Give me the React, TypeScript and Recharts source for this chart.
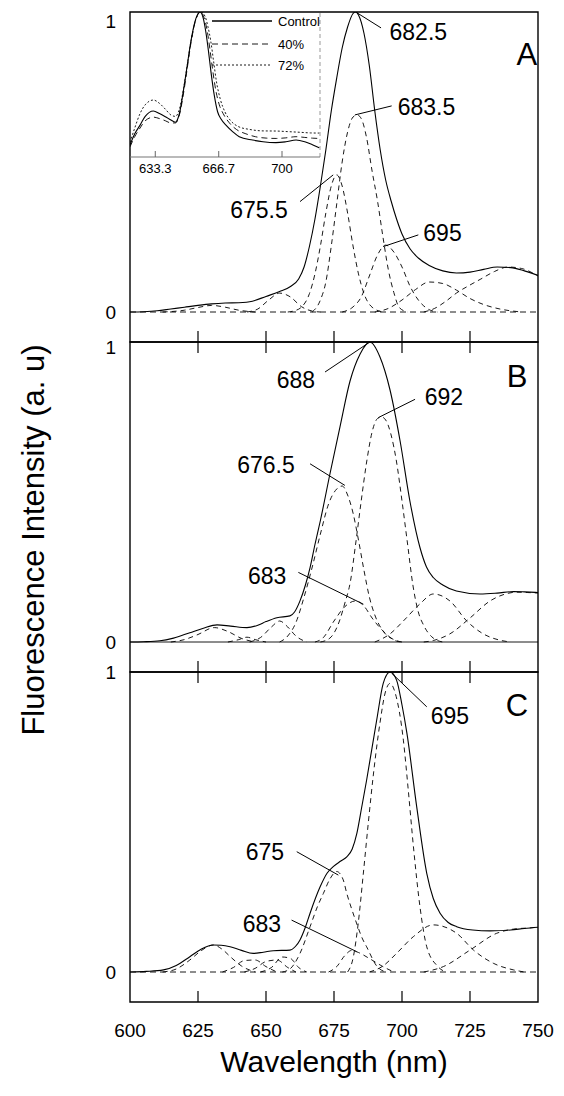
import React from 'react';
import { LineChart, Line, XAxis, YAxis, ReferenceArea, ReferenceLine, ReferenceDot, Legend } from 'recharts';

type Pt = [number, number];
type Note = { text: string; x: number; y: number; x1: number; y1: number; x2: number; y2: number };

const FONT = '"Liberation Sans", Arial, Helvetica, sans-serif';

// axes
const WAVE_TICKS = [600, 625, 650, 675, 700, 725, 750];
const INTENSITY_TICKS = [0, 1];
const INSET_TICKS = [633.3, 666.7, 700];
const INSET_NAMES = ['Control', '40%', '72%'];

// ---- panel A: measured spectrum + gaussian components
const A_TOTAL: Pt[] = [
  [600, 0], [605, 0.001], [610, 0.004], [615, 0.01], [620, 0.016], [625, 0.022], [630, 0.027], [635, 0.03],
  [640, 0.031], [645, 0.036], [650, 0.052], [655, 0.068], [659, 0.085], [662, 0.11], [664, 0.15], [666, 0.22],
  [668, 0.31], [670, 0.42], [672, 0.54], [674, 0.67], [676, 0.78], [678, 0.88], [680, 0.95], [682, 0.995],
  [683, 1.0], [684, 0.99], [686, 0.93], [688, 0.82], [690, 0.67], [692, 0.54], [694, 0.44], [696, 0.37],
  [698, 0.31], [700, 0.26], [703, 0.21], [706, 0.18], [710, 0.155], [715, 0.137], [720, 0.13], [725, 0.133],
  [730, 0.142], [735, 0.15], [740, 0.148], [745, 0.137], [750, 0.122],
];
const A_630: Pt[] = [[612, 0], [620, 0.006], [625, 0.015], [630, 0.022], [635, 0.016], [640, 0.006], [646, 0]];
const A_655: Pt[] = [[643, 0], [647, 0.01], [651, 0.04], [655, 0.063], [659, 0.05], [663, 0.018], [667, 0.003], [670, 0]];
const A_675: Pt[] = [
  [658, 0], [660, 0.003], [663, 0.016], [666, 0.062], [668, 0.127], [670, 0.22], [672, 0.33], [674, 0.42],
  [676, 0.457], [678, 0.42], [680, 0.33], [682, 0.22], [684, 0.127], [686, 0.062], [689, 0.016], [693, 0],
];
const A_683: Pt[] = [
  [667, 0], [670, 0.04], [672, 0.1], [674, 0.22], [676, 0.36], [678, 0.5], [680, 0.6], [682, 0.65], [683.5, 0.657],
  [685, 0.645], [687, 0.58], [689, 0.47], [691, 0.37], [693, 0.25], [695, 0.14], [697, 0.065], [699, 0.015], [702, 0],
];
const A_695: Pt[] = [
  [678, 0], [682, 0.017], [685, 0.05], [688, 0.12], [691, 0.19], [694, 0.223], [697, 0.2], [700, 0.15],
  [703, 0.085], [706, 0.04], [709, 0.013], [713, 0],
];
const A_710: Pt[] = [
  [690, 0], [695, 0.012], [700, 0.04], [705, 0.075], [710, 0.1], [715, 0.095], [720, 0.073], [725, 0.045],
  [730, 0.025], [736, 0.01], [744, 0],
];
const A_740: Pt[] = [
  [708, 0], [712, 0.012], [716, 0.035], [720, 0.063], [725, 0.09], [729, 0.11], [734, 0.135], [739, 0.15],
  [744, 0.145], [750, 0.12],
];
const A_NOTES: Note[] = [
  { text: '682.5', x: 706, y: 0.933, x1: 683.5, y1: 0.997, x2: 692.3, y2: 0.947 },
  { text: '683.5', x: 709, y: 0.683, x1: 682.7, y1: 0.657, x2: 696.2, y2: 0.687 },
  { text: '675.5', x: 647.4, y: 0.34, x1: 662.5, y1: 0.368, x2: 674.7, y2: 0.457 },
  { text: '695', x: 714.9, y: 0.262, x1: 693.1, y1: 0.218, x2: 706, y2: 0.257 },
];

// ---- panel B
const B_TOTAL: Pt[] = [
  [600, 0], [605, 0.001], [611, 0.004], [616, 0.013], [622, 0.031], [627, 0.046], [632, 0.057], [637, 0.053],
  [643, 0.048], [647, 0.056], [650, 0.068], [654, 0.081], [658.8, 0.087], [660.5, 0.1], [662.5, 0.137],
  [664.5, 0.19], [666.2, 0.248], [668, 0.325], [670, 0.405], [673.5, 0.56], [677.2, 0.717], [680.9, 0.87],
  [684.6, 0.96], [688.2, 1.0], [691.9, 0.95], [695.6, 0.84], [699.3, 0.67], [702.9, 0.47], [706.6, 0.315],
  [709, 0.25], [711.5, 0.215], [715, 0.19], [720, 0.17], [728.7, 0.16], [735, 0.163], [741, 0.168],
  [745, 0.167], [750, 0.165],
];
const B_631: Pt[] = [[615, 0], [620, 0.008], [625, 0.025], [631, 0.048], [636, 0.035], [641, 0.012], [646, 0]];
const B_643: Pt[] = [[636, 0], [640, 0.008], [643, 0.016], [646, 0.008], [650, 0]];
const B_655: Pt[] = [[644, 0], [648, 0.015], [652, 0.05], [655, 0.07], [658, 0.05], [661, 0.02], [665, 0]];
const B_676: Pt[] = [
  [655, 0], [658, 0.02], [661, 0.065], [664, 0.15], [667, 0.25], [670, 0.36], [673, 0.46], [676, 0.51],
  [678, 0.52], [680, 0.49], [682, 0.43], [684, 0.34], [686, 0.24], [688, 0.15], [690, 0.09], [693, 0.037],
  [697, 0.008], [700, 0],
];
const B_683: Pt[] = [
  [668, 0], [671, 0.014], [675, 0.07], [679, 0.118], [683, 0.137], [686, 0.12], [689, 0.08], [693, 0.037],
  [698, 0.003], [700, 0],
];
const B_692: Pt[] = [
  [670, 0], [673.5, 0.013], [677, 0.07], [679, 0.13], [681, 0.2], [683, 0.33], [685, 0.47], [687, 0.6],
  [689, 0.7], [691, 0.745], [692.5, 0.75], [694, 0.74], [696, 0.69], [698, 0.6], [700, 0.47], [702, 0.33],
  [704, 0.19], [706, 0.1], [708, 0.055], [711.5, 0.013], [715, 0],
];
const B_712: Pt[] = [
  [690, 0], [695.6, 0.027], [700.5, 0.07], [706.6, 0.127], [711.5, 0.16], [717.6, 0.137], [723.8, 0.07],
  [729.9, 0.027], [736, 0.006], [740, 0],
];
const B_742: Pt[] = [
  [708, 0], [711.5, 0.005], [717.6, 0.027], [725, 0.08], [732.4, 0.137], [738, 0.16], [742, 0.166],
  [746, 0.165], [750, 0.163],
];
const B_NOTES: Note[] = [
  { text: '688', x: 661, y: 0.873, x1: 671.7, y1: 0.9, x2: 688.2, y2: 1.0 },
  { text: '692', x: 715.4, y: 0.818, x1: 691.3, y1: 0.748, x2: 704.8, y2: 0.809 },
  { text: '676.5', x: 650, y: 0.589, x1: 666.2, y1: 0.594, x2: 679, y2: 0.522 },
  { text: '683', x: 650.4, y: 0.221, x1: 661.9, y1: 0.232, x2: 685.8, y2: 0.126 },
];

// ---- panel C
const C_TOTAL: Pt[] = [
  [600, 0], [606, 0.002], [612.3, 0.007], [617, 0.022], [622, 0.051], [626, 0.075], [630.6, 0.09],
  [633.5, 0.089], [636.8, 0.084], [641, 0.072], [645.3, 0.062], [649, 0.066], [652.7, 0.071], [658.8, 0.073],
  [660.8, 0.085], [662.5, 0.107], [664.5, 0.15], [666.2, 0.196], [669.9, 0.284], [672.5, 0.33], [674.7, 0.351],
  [677.5, 0.37], [679.7, 0.384], [681.7, 0.41], [683.4, 0.462], [685.2, 0.55], [687, 0.64], [690.7, 0.84],
  [693.1, 0.962], [695.6, 1.0], [698, 0.973], [700, 0.89], [701.8, 0.796], [705.4, 0.551], [709.1, 0.329],
  [711.5, 0.245], [714, 0.196], [717, 0.165], [720.1, 0.151], [726, 0.14], [732.4, 0.137], [740, 0.14],
  [745, 0.145], [750, 0.149],
];
const C_631: Pt[] = [[612, 0], [617, 0.01], [622, 0.04], [626, 0.07], [630.6, 0.09], [634, 0.075], [637, 0.05], [641, 0.02], [646, 0]];
const C_642: Pt[] = [[634, 0], [638, 0.015], [642, 0.038], [646, 0.04], [650, 0.018], [654, 0]];
const C_650: Pt[] = [[642, 0], [646, 0.012], [650, 0.035], [654, 0.04], [658, 0.015], [661, 0]];
const C_657: Pt[] = [[648, 0], [652, 0.015], [656, 0.05], [659, 0.045], [662, 0.015], [665, 0]];
const C_675: Pt[] = [
  [656, 0], [658.8, 0.01], [662.5, 0.062], [666.2, 0.151], [669, 0.22], [671.1, 0.262], [673.5, 0.31],
  [676, 0.335], [678.4, 0.307], [679.7, 0.262], [681.5, 0.21], [683.4, 0.16], [685.5, 0.11], [687, 0.084],
  [690.7, 0.02], [694, 0],
];
const C_683: Pt[] = [[673, 0], [676, 0.018], [679, 0.055], [681.5, 0.072], [684, 0.065], [688, 0.045], [693, 0.018], [697, 0]];
const C_695: Pt[] = [
  [680, 0], [682.1, 0.05], [683.9, 0.162], [685.8, 0.33], [687.6, 0.496], [689.5, 0.66], [691.9, 0.83],
  [693.8, 0.93], [695.6, 0.962], [697.5, 0.93], [700.5, 0.773], [702.3, 0.607], [704.2, 0.418], [706.6, 0.218],
  [709.1, 0.084], [713, 0.02], [716, 0],
];
const C_712: Pt[] = [
  [688, 0], [693, 0.02], [698, 0.062], [704.2, 0.118], [711.5, 0.157], [720.1, 0.129], [726.3, 0.073],
  [733.6, 0.029], [741, 0.007], [745, 0],
];
const C_745: Pt[] = [[708, 0], [715.2, 0.018], [725, 0.073], [734.8, 0.129], [741, 0.143], [747, 0.147], [750, 0.149]];
const C_NOTES: Note[] = [
  { text: '695', x: 717.6, y: 0.853, x1: 696.2, y1: 0.996, x2: 709.1, y2: 0.884 },
  { text: '675', x: 649.6, y: 0.4, x1: 661.3, y1: 0.401, x2: 676.6, y2: 0.323 },
  { text: '683', x: 648.5, y: 0.16, x1: 659.4, y1: 0.173, x2: 683.3, y2: 0.068 },
];

// ---- inset: whole spectra at three treatments
const INSET_CONTROL: Pt[] = [
  [620, 0.083], [622.5, 0.16], [625.3, 0.22], [628, 0.28], [632.3, 0.317], [635.5, 0.3], [638.6, 0.278],
  [641.5, 0.255], [643.9, 0.24], [646, 0.3], [648.3, 0.473], [650, 0.62], [652, 0.795], [654.7, 0.956],
  [656.8, 1.0], [658.5, 0.96], [659.9, 0.864], [661.3, 0.73], [662.6, 0.589], [664.3, 0.43], [666.1, 0.312],
  [668, 0.26], [670.5, 0.22], [674, 0.175], [677.5, 0.14], [684.5, 0.117], [690, 0.105], [696.8, 0.099],
  [702, 0.105], [707.4, 0.117], [712, 0.105], [716, 0.085], [719.6, 0.064],
];
const INSET_40: Pt[] = [
  [620, 0.07], [622.5, 0.14], [625.3, 0.2], [628, 0.25], [632.3, 0.275], [635.5, 0.265], [638.6, 0.25],
  [641.5, 0.235], [643.9, 0.235], [646, 0.29], [648.3, 0.45], [650, 0.6], [652, 0.78], [654.7, 0.95],
  [657, 1.0], [659, 0.96], [660.5, 0.88], [662, 0.75], [663.5, 0.6], [665.3, 0.45], [667, 0.36], [669, 0.3],
  [672, 0.24], [676, 0.19], [681, 0.16], [686, 0.14], [692, 0.13], [697, 0.128], [702, 0.132], [707.4, 0.14],
  [712, 0.135], [716, 0.13], [719.6, 0.128],
];
const INSET_72: Pt[] = [
  [620, 0.1], [622.5, 0.2], [625.3, 0.3], [628, 0.36], [632.3, 0.393], [635.5, 0.37], [638.6, 0.33],
  [641.5, 0.29], [643.9, 0.28], [646, 0.33], [648.3, 0.48], [650, 0.62], [652, 0.79], [654.7, 0.95],
  [657.3, 1.0], [659.5, 0.97], [661, 0.9], [662.5, 0.8], [664, 0.66], [665.5, 0.52], [667.5, 0.4], [670, 0.31],
  [673, 0.25], [677, 0.21], [683, 0.19], [690, 0.18], [697, 0.179], [703, 0.175], [710, 0.17], [715, 0.166],
  [719.6, 0.165],
];

const PLOT_H = 330;
const pts = (d: Pt[]) => d.map(([x, y]) => ({ x, y }));

const bottomTick = (withLabel: boolean) => (p: any) => {
  const v = p.payload.value;
  const edge = v === 600 || v === 750;
  return (
    <g>
      {!edge && <line x1={p.x} x2={p.x} y1={p.y} y2={p.y - 11} stroke="#000" strokeWidth={1.2} />}
      {withLabel && (
        <text x={p.x} y={p.y + 35} textAnchor="middle" fontSize={19} fontFamily={FONT} fill="#000">
          {v}
        </text>
      )}
    </g>
  );
};

const topTick = (p: any) => {
  const v = p.payload.value;
  if (v === 600 || v === 750) return <g />;
  return <line x1={p.x} x2={p.x} y1={p.y} y2={p.y + 11} stroke="#000" strokeWidth={1.2} />;
};

// "1" label sits a little below the top edge in the upper panels
const yTick = (oneShift: number) => (p: any) => {
  const v = p.payload.value;
  return (
    <text
      x={p.x}
      y={p.y + (v === 1 ? oneShift : 0)}
      textAnchor="end"
      dominantBaseline="central"
      fontSize={19}
      fontFamily={FONT}
      fill="#000"
    >
      {v}
    </text>
  );
};

function Panel(props: {
  top: number;
  total: Pt[];
  comps: Pt[][];
  notes: Note[];
  letter: string;
  letterAt: [number, number];
  topTicks: boolean;
  labels: boolean;
  oneShift: number;
  solidBase?: boolean;
}) {
  const { top, total, comps, notes, letter, letterAt, topTicks, labels, oneShift, solidBase } = props;
  const bottomH = labels ? 90 : 30;
  const topH = topTicks ? 30 : 12;
  return (
    <div style={{ position: 'absolute', left: 0, top }}>
      <LineChart
        width={564}
        height={topH + PLOT_H + bottomH}
        margin={{ top: topTicks ? 0 : 12, right: 26, bottom: 0, left: 0 }}
      >
        <XAxis
          dataKey="x"
          type="number"
          domain={[600, 750]}
          ticks={WAVE_TICKS}
          interval={0}
          allowDataOverflow
          axisLine={false}
          tickLine={false}
          tickSize={0}
          tickMargin={0}
          height={bottomH}
          tick={bottomTick(labels)}
          label={
            labels
              ? { value: 'Wavelength (nm)', position: 'insideBottom', offset: 20, fontSize: 30, fill: '#000', fontFamily: FONT }
              : undefined
          }
        />
        {topTicks && (
          <XAxis
            xAxisId="top"
            orientation="top"
            dataKey="x"
            type="number"
            domain={[600, 750]}
            ticks={WAVE_TICKS}
            interval={0}
            allowDataOverflow
            axisLine={false}
            tickLine={false}
            tickSize={0}
            tickMargin={0}
            height={30}
            tick={topTick}
          />
        )}
        <YAxis
          type="number"
          domain={[-0.1, 1]}
          ticks={INTENSITY_TICKS}
          allowDataOverflow
          width={130}
          axisLine={false}
          tickLine={false}
          tickMargin={8}
          tick={yTick(oneShift)}
        />
        <ReferenceArea x1={600} x2={750} y1={-0.1} y2={1} fill="none" stroke="#000" strokeWidth={1.4} fillOpacity={0} ifOverflow="visible" />
        <ReferenceLine y={0} stroke="#000" strokeWidth={0.9} strokeDasharray={solidBase ? undefined : '6 4'} />
        {comps.map((c, i) => (
          <Line
            key={i}
            data={pts(c)}
            dataKey="y"
            type="monotone"
            stroke="#000"
            strokeWidth={0.9}
            strokeDasharray="5 4"
            dot={false}
            activeDot={false}
            isAnimationActive={false}
          />
        ))}
        <Line data={pts(total)} dataKey="y" type="monotone" stroke="#000" strokeWidth={1.1} dot={false} activeDot={false} isAnimationActive={false} />
        {notes.map((n) => (
          <ReferenceLine
            key={'l' + n.text + n.x}
            segment={[{ x: n.x1, y: n.y1 }, { x: n.x2, y: n.y2 }]}
            stroke="#000"
            strokeWidth={1}
            ifOverflow="visible"
          />
        ))}
        {notes.map((n) => (
          <ReferenceDot
            key={'t' + n.text + n.x}
            x={n.x}
            y={n.y}
            r={0}
            ifOverflow="visible"
            shape={(p: any) => (
              <text x={p.cx} y={p.cy} textAnchor="middle" dominantBaseline="central" fontSize={23} fontFamily={FONT} fill="#000">
                {n.text}
              </text>
            )}
          />
        ))}
        <ReferenceDot
          x={letterAt[0]}
          y={letterAt[1]}
          r={0}
          ifOverflow="visible"
          shape={(p: any) => (
            <text x={p.cx} y={p.cy} textAnchor="middle" dominantBaseline="central" fontSize={31} fontFamily={FONT} fill="#000">
              {letter}
            </text>
          )}
        />
      </LineChart>
    </div>
  );
}

const insetTick = (p: any) => (
  <g>
    <line x1={p.x} x2={p.x} y1={p.y} y2={p.y - 6} stroke="#666" />
    <text x={p.x} y={p.y + 16} textAnchor="middle" fontSize={13} fontFamily={FONT} fill="#000">
      {p.payload.value}
    </text>
  </g>
);

const INSET_DASH = [undefined, '6 4', '2 2'];

function InsetLegend() {
  return (
    <svg width={125} height={70}>
      {INSET_NAMES.map((name, i) => {
        const y = [9, 32, 53][i];
        return (
          <g key={name}>
            <line x1={7} x2={67} y1={y} y2={y} stroke="#000" strokeWidth={i === 0 ? 1.3 : 0.9} strokeDasharray={INSET_DASH[i]} />
            <text x={73} y={y} dominantBaseline="central" fontSize={13} fontFamily={FONT} fill="#000">
              {name}
            </text>
          </g>
        );
      })}
    </svg>
  );
}

function Inset() {
  const series = [INSET_CONTROL, INSET_40, INSET_72];
  return (
    <div style={{ position: 'absolute', left: 0, top: 0 }}>
      <LineChart width={330} height={182} margin={{ top: 12, right: 10, bottom: 0, left: 130 }}>
        <XAxis
          dataKey="x"
          type="number"
          domain={[620, 720]}
          ticks={INSET_TICKS}
          interval={0}
          allowDataOverflow
          height={25}
          axisLine={{ stroke: '#777', strokeWidth: 1.2 }}
          tickLine={false}
          tickSize={0}
          tickMargin={0}
          tick={insetTick}
        />
        <YAxis hide type="number" domain={[0, 1]} allowDataOverflow />
        <ReferenceLine x={720} stroke="#999" strokeDasharray="4 3" ifOverflow="visible" />
        {series.map((s, i) => (
          <Line
            key={INSET_NAMES[i]}
            data={pts(s)}
            dataKey="y"
            type="monotone"
            stroke="#000"
            strokeWidth={i === 0 ? 1.1 : 0.9}
            strokeDasharray={INSET_DASH[i]}
            dot={false}
            activeDot={false}
            isAnimationActive={false}
          />
        ))}
        <Legend
          layout="horizontal"
          align="center"
          verticalAlign="middle"
          wrapperStyle={{ left: 205, top: 12, width: 125, height: 70 }}
          content={() => <InsetLegend />}
        />
      </LineChart>
    </div>
  );
}

export default function App() {
  return (
    <div
      style={{
        position: 'absolute',
        left: 0,
        top: 0,
        width: 564,
        height: 1096,
        background: '#fff',
        overflow: 'hidden',
        fontFamily: FONT,
      }}
    >
      <Panel
        top={0}
        total={A_TOTAL}
        comps={[A_630, A_655, A_675, A_683, A_695, A_710, A_740]}
        notes={A_NOTES}
        letter="A"
        letterAt={[745.9, 0.857]}
        topTicks={false}
        labels={false}
        oneShift={9}
      />
      <Panel
        top={312}
        total={B_TOTAL}
        comps={[B_631, B_643, B_655, B_676, B_683, B_692, B_712, B_742]}
        notes={B_NOTES}
        letter="B"
        letterAt={[742.3, 0.886]}
        topTicks
        labels={false}
        oneShift={5}
        solidBase
      />
      <Panel
        top={642}
        total={C_TOTAL}
        comps={[C_631, C_642, C_650, C_657, C_675, C_683, C_695, C_712, C_745]}
        notes={C_NOTES}
        letter="C"
        letterAt={[742.3, 0.887]}
        topTicks
        labels
        oneShift={0}
      />
      <Inset />
      <svg width={70} height={1096} style={{ position: 'absolute', left: 0, top: 0 }}>
        <text
          transform="translate(33, 540) rotate(-90)"
          textAnchor="middle"
          dominantBaseline="central"
          fontSize={31}
          fontFamily={FONT}
          fill="#000"
        >
          Fluorescence Intensity (a. u)
        </text>
      </svg>
    </div>
  );
}
